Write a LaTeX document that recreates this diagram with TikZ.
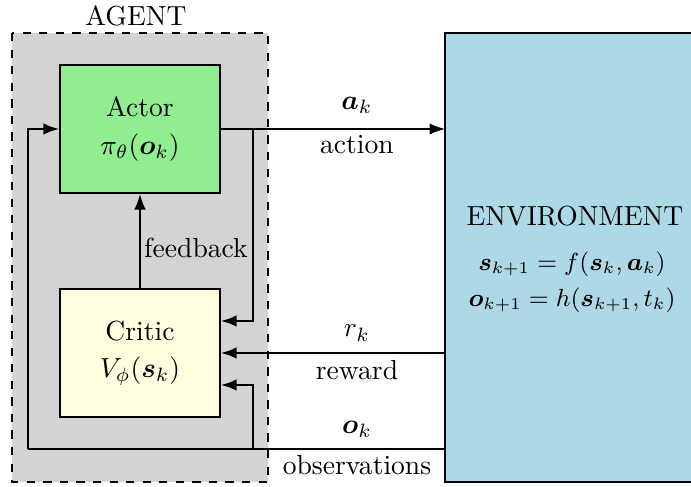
\documentclass[tikz,border=0pt]{standalone}
\usepackage{amsmath,bm}
\usetikzlibrary{arrows.meta}
\begin{document}
\begin{tikzpicture}[x=0.3623pt,y=-0.3623pt,
  blk/.style={draw=black,line width=0.8pt,minimum width=160*0.3623pt,minimum height=128*0.3623pt,align=center,inner sep=0pt},
  conn/.style={line width=0.45pt},
  arr/.style={conn,-{Latex[length=5.6pt,width=4.1pt]}},
  lbl/.style={inner sep=0pt}]
\useasboundingbox (0,0) rectangle (691,487);
% agent region
\draw[dashed,fill={rgb,255:red,211;green,211;blue,211},line width=0.45pt] (12,33) rectangle (268,482);
\node[lbl] (agentlbl) at (136,16) {AGENT};
% environment
\draw[fill={rgb,255:red,173;green,216;blue,230},line width=0.8pt] (445,33) rectangle (720,482);
\node[lbl] (envlbl) at (575,216) {ENVIRONMENT};
\node[lbl,font=\small] (eq1) at (572,264) {$\bm{s}_{k+1} = f(\bm{s}_k,\bm{a}_k)$};
\node[lbl,font=\small] (eq2) at (572,300) {$\bm{o}_{k+1} = h(\bm{s}_{k+1},t_k)$};
% blocks
\node[blk,fill={rgb,255:red,144;green,238;blue,144}] (actor) at (140,129) {Actor\\[1.5pt]$\pi_\theta(\bm{o}_k)$};
\node[blk,fill={rgb,255:red,255;green,255;blue,224}] (critic) at (140,353) {Critic\\[1.5pt]$V_\phi(\bm{s}_k)$};
% coordinates
\coordinate (e1) at (445,129);
\coordinate (e2) at (445,353);
\coordinate (e3) at (445,449);
\coordinate (b1) at (253,129);
\coordinate (b2) at (253,449);
\coordinate (c1) at (28,449);
% action
\draw[arr] (actor.east) -- (e1);
\draw[arr] (b1) |- ([yshift=32*0.3623pt]critic.east);
% feedback
\draw[arr] (critic.north) -- (actor.south);
\node[lbl] (fb) at (196,248) {feedback};
% reward
\draw[arr] (e2) -- (critic.east);
% observations
\draw[conn] (e3) -- (c1);
\draw[arr] (c1) |- (actor.west);
\draw[arr] (b2) |- ([yshift=-32*0.3623pt]critic.east);
% labels
\node[lbl] (ak) at (357,105) {$\bm{a}_k$};
\node[lbl] (act) at (357,145) {action};
\node[lbl] (rk) at (357,333) {$r_k$};
\node[lbl] (rew) at (357,370) {reward};
\node[lbl] (ok) at (357,429) {$\bm{o}_k$};
\node[lbl] (obs) at (357,465) {observations};
\end{tikzpicture}
\end{document}
